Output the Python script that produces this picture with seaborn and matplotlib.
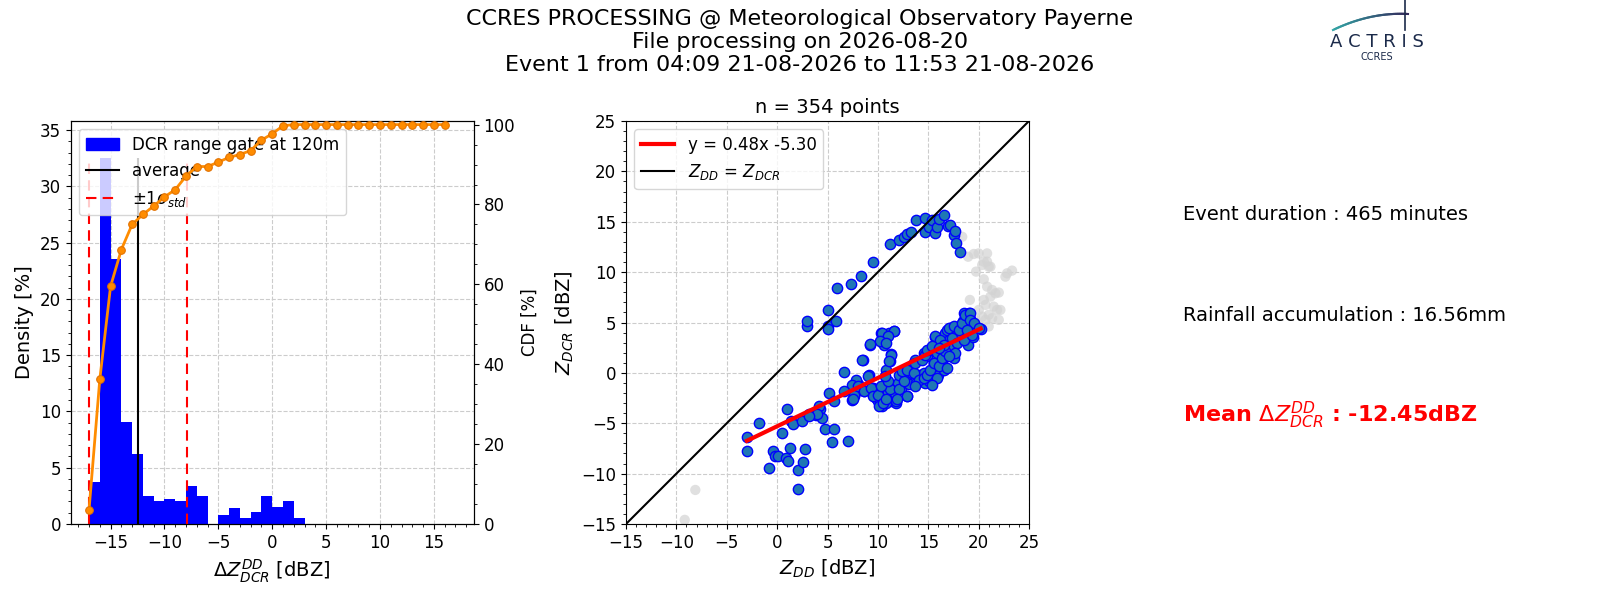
import numpy as np
import matplotlib
matplotlib.use("Agg")
import matplotlib.pyplot as plt
from matplotlib.ticker import MultipleLocator
from matplotlib.patches import Patch
from matplotlib.lines import Line2D
import seaborn as sns

plt.rcParams['font.family'] = ['DejaVu Sans']

# ---------------- data ----------------
bin_edges = list(range(-17, 18))          # 1 dBZ bins from -17 to 17
density = [3.7, 32.5, 23.5, 9.1, 6.2, 2.5, 2.0, 2.2, 2.0, 3.4, 2.5, 0.0,
           0.8, 1.4, 0.55, 1.1, 2.5, 1.5, 2.0, 0.55, 0, 0, 0, 0, 0, 0, 0,
           0, 0, 0, 0, 0, 0, 0]
cdf = [3.5, 36.2, 59.5, 68.7, 75.0, 77.5, 79.6, 81.9, 83.7, 87.1, 89.5, 89.5,
       90.6, 91.8, 92.5, 93.5, 96.1, 97.7, 99.7, 100, 100, 100, 100, 100, 100,
       100, 100, 100, 100, 100, 100, 100, 100, 100]
mean_dz = -12.45
std_dz = 4.57

zdd_blue = [3.0, 3.0, 5.0, 5.0, 5.0, 5.8, 5.9, 7.3, 8.3, 9.5, 11.25, 12.1, 12.6, 12.9,
            13.3, 13.8, 14.7, 14.7, 15.1, 15.4, 15.7, 15.9, 16.1, 16.6, 17.0, 17.2,
            17.6, 17.7, 17.8, 18.2,
            -3.0, -3.0, -1.75, -0.76, -0.36, -0.26, 0.07, 0.5, 0.9, 1.06, 0.96, 1.29,
            1.39, 1.55, 2.1, 2.05, 2.5, 2.6, 2.8, 3.2, 3.86, 4.26, 4.45, 4.8, 5.45,
            5.6, 5.18, 5.68, 7.0, 6.6, 7.43, 7.66, 8.0, 8.5, 8.65, 9.1, 9.2, 9.5,
            9.6, 9.8, 10.0, 10.1, 10.3, 10.5, 10.6, 10.4, 11.1, 11.6, 11.3, 11.2,
            10.8, 10.8, 11.0, 10.8, 11.45, 11.8, 11.7, 11.95, 12.1, 12.3, 12.6, 12.8,
            12.9, 13.1, 13.4, 13.6, 13.7, 13.8, 14.1, 14.3, 14.6, 14.6, 14.7, 14.9,
            15.1, 15.25, 15.4, 15.6, 15.7, 15.8, 15.9, 16.0, 16.1, 16.25, 16.35, 16.4,
            16.6, 16.7, 16.7, 16.9, 17.0, 17.1, 17.2, 17.4, 17.6, 17.7, 17.9, 18.05,
            18.2, 18.4, 18.55, 18.7, 18.9, 19.0, 19.1, 19.3, 19.4, 19.7, 20.2,
            10.36, 11.58, 11.0, 10.26, 9.17, 10.76, 8.45, 11.35, 11.1, 7.8, 7.46, 6.6,
            7.6, 9.44, 9.9, 10.26, 10.76, 11.75, 11.25, 12.08, 12.57, 12.41, 12.9,
            13.56, 13.73, 14.39, 14.72, 14.06, 14.55, 14.88, 15.21, 15.54, 16.04,
            16.37, 16.7, 15.71, 16.2, 16.53, 17.03, 17.52, 18.02, 17.36, 17.85, 18.51,
            18.35, 18.68, 19.17, 19.17, 19.5, 19.34, 18.84, 20.0, 17.69, 17.03, 16.86,
            15.87, 15.38, 13.73, 12.9, 11.91, 14.88, 15.38, 16.04,
            7.66, 7.49, 7.99, 8.65, 8.98, 9.31, 9.47, 9.97, 10.13, 10.46, 10.79, 10.3,
            10.96, 10.69, 4.19, 3.93, 3.2]
zdcr_blue = [4.7, 5.1, 6.2, 4.7, 4.4, 5.15, 8.4, 8.8, 9.6, 11.0, 12.8, 13.2, 13.5, 13.8,
             14.0, 15.15, 15.35, 14.0, 14.5, 15.2, 13.9, 14.5, 15.25, 15.7, 14.6, 14.7,
             13.7, 14.1, 12.9, 12.0,
             -6.4, -7.8, -4.95, -9.4, -7.75, -8.25, -8.25, -5.95, -8.4, -8.75, -3.56,
             -7.5, -4.8, -5.1, -9.6, -11.55, -4.8, -8.8, -7.6, -4.1, -4.2, -3.56,
             -4.45, -5.6, -6.9, -5.6, -2.0, -2.8, -6.8, 0.07, -2.65, -2.15, -1.15, 1.3,
             -1.8, -0.26, 2.8, -1.5, -2.0, -2.5, -2.8, -2.2, 3.96, 3.1, 2.8, -3.3,
             3.96, 4.2, 1.9, 1.15, 0.33, -1.0, -1.9, -2.8, -2.8, -3.0, -2.0, -1.0,
             -0.17, -1.65, 0.17, -0.66, -2.3, -1.15, 0.0, 1.0, 1.3, -1.0, -0.17, -0.8,
             0.0, 2.0, -1.0, 1.65, -0.8, -0.17, 2.3, 1.0, 3.56, 0.66, 2.0, -0.17, 2.97,
             3.5, 1.15, 2.5, 0.33, 3.96, 1.65, 4.3, 2.15, 3.3, 4.46, 2.64, 1.5, 3.96,
             3.04, 4.3, 3.6, 5.1, 5.9, 3.8, 2.8, 5.9, 5.3, 4.3, 3.6, 4.46, 4.36,
             3.96, 4.19, 3.63, 3.14, 2.9, 2.97, 1.32, 1.8, 1.15, -0.66, -1.16, -1.8,
             -2.3, -1.49, -2.3, -2.81, -2.97, -2.81, -1.65, -1.65, -0.83, 0.17, 0.33,
             0.0, 0.99, 1.32, 1.82, -0.66, -0.5, -0.17, 0.33, 0.99, 0.66,
             1.49, 2.15, 3.63, 3.3, 2.81, 4.46, 4.62, 4.29, 3.47, 2.97, 3.3,
             4.95, 5.78, 5.94, 5.28, 4.95, 3.8, 4.29, 4.46, 1.98, 1.65, 0.5,
             -0.5, -1.16, -1.32, -2.31, -2.64, 2.31, 2.64, 2.48,
             -2.15, -2.64, -1.32, -1.82, -0.33, -1.49, -2.31, -2.15, -3.3, -2.97, -2.64,
             -1.32, -0.83, -0.33, -3.3, -4.1, -4.3]

zdd_grey = [-9.17, -8.12, 18.37, 18.96, 19.52, 20.0, 20.84, 20.51, 20.84, 21.0, 20.35,
            21.17, 19.75, 20.51, 20.84, 21.34, 21.67, 22.0, 21.17, 19.13, 20.51, 20.68,
            21.5, 21.83, 22.16, 21.0, 20.35, 20.68, 21.34, 22.0, 20.02, 20.18, 19.69,
            21.0, 22.66, 22.82, 23.32]
zdcr_grey = [-14.59, -11.62, 13.51, 11.53, 11.8, 11.86, 11.86, 11.04, 11.04, 10.54,
             10.71, 10.54, 10.05, 9.29, 8.56, 8.23, 7.9, 7.97, 7.57, 7.24, 7.24, 6.75,
             6.58, 6.25, 6.25, 5.76, 5.59, 5.26, 5.43, 5.26, 6.25, 4.6, 5.26, 4.6,
             9.55, 9.88, 10.15]

fit_slope = 0.48
fit_intercept = -5.30
n_points = 354

suptitle_lines = ["CCRES PROCESSING @ Meteorological Observatory Payerne",
                  "File processing on 2026-08-20",
                  "Event 1 from 04:09 21-08-2026 to 11:53 21-08-2026"]
event_duration = "Event duration : 465 minutes"
rainfall = "Rainfall accumulation : 16.56mm"

# ---------------- figure ----------------
fig = plt.figure(figsize=(16, 6), dpi=100)
W, H = 1600, 600
ax1 = fig.add_axes([70.7 / W, 76 / H, 403 / W, 403 / H])
ax2 = fig.add_axes([626 / W, 76 / H, 403 / W, 403 / H])

# ---- histogram ----
centers = [e + 0.5 for e in bin_edges[:-1]]
sns.histplot(x=centers, weights=density, bins=bin_edges, ax=ax1, color="blue",
             alpha=1, edgecolor=None, linewidth=0, zorder=2)
ax1.vlines(mean_dz, 0, max(density), color="black", lw=1.5, zorder=3)
ax1.vlines([mean_dz - std_dz, mean_dz + std_dz], 0, max(density), color="red",
           lw=1.5, linestyles=(0, (5, 3)), zorder=3)
ax1.set_xlim(-18.7, 18.7)
ax1.set_ylim(0, 35.8)
ax1.set_xlabel(r"$\Delta Z_{DCR}^{DD}$ [dBZ]", fontsize=14)
ax1.set_ylabel("Density [%]", fontsize=14)
ax1.xaxis.set_major_locator(MultipleLocator(5))
ax1.xaxis.set_minor_locator(MultipleLocator(1))
ax1.yaxis.set_major_locator(MultipleLocator(5))
ax1.yaxis.set_minor_locator(MultipleLocator(1))
ax1.grid(True, which="major", linestyle="--", color="#cccccc", lw=0.8)
ax1.set_axisbelow(True)
ax1.tick_params(labelsize=12)
handles = [Patch(color="blue", label="DCR range gate at 120m"),
           Line2D([], [], color="black", lw=1.5, label="average"),
           Line2D([], [], color="red", lw=1.5, ls=(0, (5, 3)), label=r"$\pm 1\sigma_{std}$")]
ax1.legend(handles=handles, loc="upper left", fontsize=12)

ax1b = ax1.twinx()
sns.lineplot(x=bin_edges[:-1], y=cdf, ax=ax1b, color="darkorange", lw=2,
             marker="o", markersize=5.5, markeredgecolor="#e07000", zorder=4)
ax1b.set_ylim(0, 100.9)
ax1b.set_ylabel("CDF [%]", fontsize=12)
ax1b.yaxis.set_major_locator(MultipleLocator(20))
ax1b.yaxis.set_minor_locator(MultipleLocator(5))
ax1b.tick_params(labelsize=12)
ax1b.grid(False)

# ---- scatter ----
sns.scatterplot(x=zdd_grey, y=zdcr_grey, ax=ax2, color="lightgrey", alpha=0.7,
                s=55, edgecolor="none", zorder=2)
sns.scatterplot(x=zdd_blue, y=zdcr_blue, ax=ax2, color="#1f77b4", edgecolor="blue",
                s=55, linewidth=1, zorder=3)
xfit = np.array([min(zdd_blue), max(zdd_blue)])
sns.lineplot(x=xfit, y=fit_slope * xfit + fit_intercept, ax=ax2, color="red", lw=3,
             zorder=4, label=f"y = {fit_slope:.2f}x {fit_intercept:.2f}")
ax2.axline((0, 0), slope=1, color="black", lw=1.5, zorder=4,
           label=r"$Z_{DD}$ = $Z_{DCR}$")
ax2.set_xlim(-15, 25)
ax2.set_ylim(-15, 25)
ax2.set_title(f"n = {n_points} points", fontsize=14)
ax2.set_xlabel(r"$Z_{DD}$ [dBZ]", fontsize=14)
ax2.set_ylabel(r"$Z_{DCR}$ [dBZ]", fontsize=14)
ax2.xaxis.set_major_locator(MultipleLocator(5))
ax2.xaxis.set_minor_locator(MultipleLocator(1))
ax2.yaxis.set_major_locator(MultipleLocator(5))
ax2.yaxis.set_minor_locator(MultipleLocator(1))
ax2.grid(True, which="major", linestyle="--", color="#cccccc", lw=0.8)
ax2.set_axisbelow(True)
ax2.tick_params(labelsize=12)
ax2.legend(loc="upper left", fontsize=12)

# ---- texts ----
fig.suptitle("\n".join(suptitle_lines), fontsize=16, y=0.985)
fig.text(1183 / W, 1 - 214 / H, event_duration, fontsize=14, va="center")
fig.text(1183 / W, 1 - 316 / H, rainfall, fontsize=14, va="center")
fig.text(1183 / W, 1 - 415 / H, r"Mean $\Delta Z_{DCR}^{DD}$ : " + f"{mean_dz:.2f}dBZ",
         fontsize=16, va="center", color="red", fontweight="bold")

# ---- logo ----
logo = fig.add_axes([1320 / W, 1 - 66 / H, 110 / W, 66 / H])
logo.set_xlim(0, 110)
logo.set_ylim(66, 0)
logo.axis("off")
t = np.linspace(0, 1, 40)
arc_x = 13 + 75 * t
arc_y = 30 - 36 * t + 20 * t ** 2
for i in range(len(t) - 1):
    c = (0.2, 0.65 - 0.5 * t[i], 0.65 - 0.3 * t[i])
    logo.plot(arc_x[i:i + 2], arc_y[i:i + 2], color=c, lw=1.5)
logo.plot([85, 85], [0, 30], color="#1b2a4a", lw=1.2)
logo.text(57, 42, "A C T R I S", fontsize=13, ha="center", va="center", color="#1b2a4a")
logo.text(57, 57, "CCRES", fontsize=7, ha="center", va="center", color="#1b2a4a")

fig.savefig("out.png", dpi=100)
